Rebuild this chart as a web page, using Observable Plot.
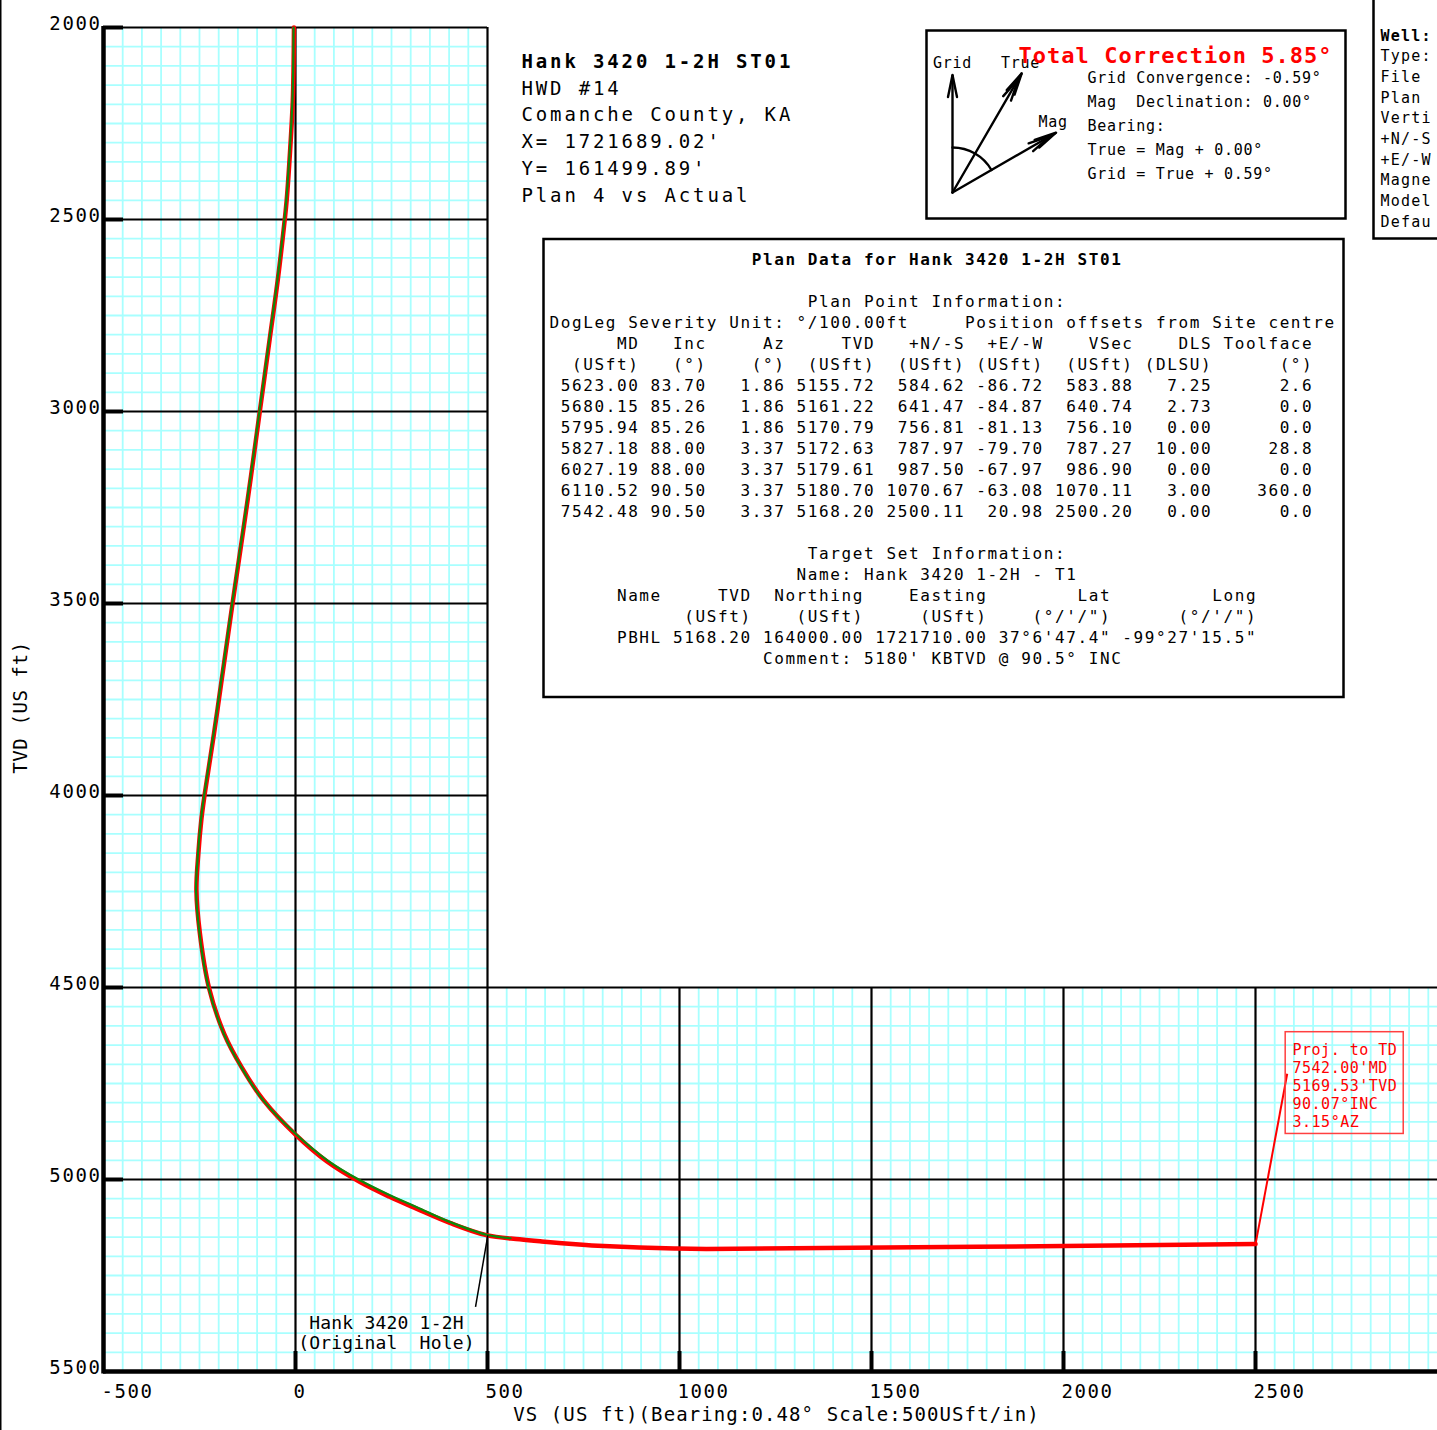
<!DOCTYPE html>
<html><head><meta charset="utf-8">
<script src="https://cdn.jsdelivr.net/npm/d3@7"></script>
<script src="https://cdn.jsdelivr.net/npm/@observablehq/plot@0.6"></script>
<style>
html,body{margin:0;padding:0;background:#fff;overflow:hidden;}
#wrap{position:relative;width:1437px;height:1430px;overflow:hidden;background:#fff;}
#wrap svg{position:absolute;left:0;top:0;max-width:none;}
</style></head><body><div id="wrap"></div>
<script>
// ---------- DATA ----------
// Actual wellbore (green): TVD (ft) and vertical section (ft)
const actualTVD = [2000, 2100, 2190, 2320, 2450, 2500, 2656, 2810, 3000, 3169, 3323, 3500, 3683, 3837, 4000, 4061, 4151, 4247, 4359, 4502, 4620, 4708, 4794, 4881, 4950, 5002, 5041, 5072, 5111, 5144, 5153];
const actualVS  = [-5, -6, -8, -15, -24, -29, -47, -68, -94, -117, -139, -165, -191, -213, -238, -246, -254, -259, -250, -226, -187, -141, -84, 0, 83, 168, 246, 316, 403, 498, 560];
// Plan (red) upper section
const planUpperTVD = [2000, 2100, 2190, 2320, 2450, 2500, 2656, 2810, 3000, 3169, 3323, 3500, 3683, 3837, 4000, 4061, 4151, 4247, 4359, 4502, 4620, 4708, 4794, 4883, 4953, 5006, 5045, 5076, 5113, 5145];
const planUpperVS  = [-4, -5, -7, -14, -23, -28, -46, -67, -93, -116, -138, -164, -190, -212, -237, -245, -253, -258, -249, -225, -186, -140, -83, 0, 82, 167, 245, 315, 402, 497];
// Plan point table
const tblMD   = [5623.00, 5680.15, 5795.94, 5827.18, 6027.19, 6110.52, 7542.48];
const tblInc  = [83.70, 85.26, 85.26, 88.00, 88.00, 90.50, 90.50];
const tblAz   = [1.86, 1.86, 1.86, 3.37, 3.37, 3.37, 3.37];
const tblTVD  = [5155.72, 5161.22, 5170.79, 5172.63, 5179.61, 5180.70, 5168.20];
const tblNS   = [584.62, 641.47, 756.81, 787.97, 987.50, 1070.67, 2500.11];
const tblEW   = [-86.72, -84.87, -81.13, -79.70, -67.97, -63.08, 20.98];
const tblVSec = [583.88, 640.74, 756.10, 787.27, 986.90, 1070.11, 2500.20];
const tblDLS  = [7.25, 2.73, 0.00, 10.00, 0.00, 3.00, 0.00];
const tblTF   = [2.6, 0.0, 0.0, 28.8, 0.0, 360.0, 0.0];
// Target
const tgtName = ["PBHL"], tgtTVD = [5168.20], tgtNorthing = [164000.00], tgtEasting = [1721710.00];
const tgtLat = ["37°6'47.4\""], tgtLong = ["-99°27'15.5\""];
// Projection to TD
const projMD = 7542.00, projTVD = 5169.53, projInc = 90.07, projAz = 3.15;
// Axis ticks
const xTicks = [-500, 0, 500, 1000, 1500, 2000, 2500];
const yTicks = [2000, 2500, 3000, 3500, 4000, 4500, 5000, 5500];
// Header texts
const titleLines = ["Hank 3420 1-2H ST01", "HWD #14", "Comanche County, KA", "X= 1721689.02'", "Y= 161499.89'", "Plan 4 vs Actual"];
const corrLines = ["Grid Convergence: -0.59°", "Mag  Declination: 0.00°", "Bearing:", "True = Mag + 0.00°", "Grid = True + 0.59°"];
const wellLines = ["Well:", "Type:", "File", "Plan", "Verti", "+N/-S", "+E/-W", "Magne", "Model", "Defau"];

// ---------- LAYOUT ----------
const W = 1437, H = 1430, mL = 103, mT = 27, mB = 59;
const pxPerFt = 192 / 500;
const ft = px => px / pxPerFt;
const xMax = -500 + (W - mL) / pxPerFt;

const plan = planUpperVS.map((v, i) => ({vs: v, tvd: planUpperTVD[i]}))
  .concat(tblVSec.map((v, i) => ({vs: v, tvd: tblTVD[i]})));
const actual = actualVS.map((v, i) => ({vs: v, tvd: actualTVD[i]}));

// grid
const minorV = d3.range(-450, xMax, 50).filter(v => v % 500 !== 0).map(v => ({x: v, y1: v < 500 ? 2000 : 4500, y2: 5500}));
const minorH = d3.range(2050, 5500, 50).filter(v => v % 500 !== 0).map(v => ({y: v, x1: -500, x2: v < 4500 ? 500 : xMax}));
const majorV = xTicks.filter(v => v > -500).map(v => ({x: v, y1: v <= 500 ? 2000 : 4500, y2: 5500}));
const majorH = yTicks.filter(v => v < 5500).map(v => ({y: v, x1: -500, x2: v < 4500 ? 500 : xMax}));

const endPt = plan[plan.length - 1];
const projLeader = [{x1: endPt.vs, y1: endPt.tvd, x2: 2582.6, y2: 4724.6}];
const projBox = [{x1: 2578.6, x2: 2886.0, y1: 4616.4, y2: 4881.4}];
const projText = ["Proj. to TD", `${projMD.toFixed(2)}'MD`, `${projTVD.toFixed(2)}'TVD`, `${projInc.toFixed(2)}°INC`, `${projAz.toFixed(2)}°AZ`].join("\n");
const holeLeader = [{x1: 500.8, y1: 5145.6, x2: 468.8, y2: 5332}];

const chart = Plot.plot({
  width: W, height: H,
  marginLeft: mL, marginRight: 0, marginTop: mT, marginBottom: mB,
  x: {domain: [-500, xMax], axis: null},
  y: {domain: [2000, 5500], reverse: true, axis: null},
  style: {fontFamily: "DejaVu Sans Mono", background: "transparent", color: "black", overflow: "visible"},
  marks: [
    Plot.ruleX(minorV, {x: "x", y1: "y1", y2: "y2", stroke: "#a8ffff", strokeWidth: 1.8}),
    Plot.ruleY(minorH, {y: "y", x1: "x1", x2: "x2", stroke: "#a8ffff", strokeWidth: 1.8}),
    Plot.ruleX(majorV, {x: "x", y1: "y1", y2: "y2", stroke: "black", strokeWidth: 2.2}),
    Plot.ruleY(majorH, {y: "y", x1: "x1", x2: "x2", stroke: "black", strokeWidth: 2.2}),
    Plot.ruleX([-500], {y1: 2000 - ft(1), y2: 5500 + ft(2.5), stroke: "black", strokeWidth: 4.5}),
    Plot.ruleY([5500], {x1: -500, x2: xMax, stroke: "black", strokeWidth: 4.5}),
    Plot.ruleY(yTicks.slice(0, -1), {y: d => d, x1: -500, x2: -500 + ft(20), stroke: "black", strokeWidth: 4}),
    Plot.ruleX(xTicks.slice(1), {x: d => d, y1: 5500, y2: 5500 - ft(20), stroke: "black", strokeWidth: 4}),
    Plot.text(yTicks, {x: -500, y: d => d, text: d => `${d}`, textAnchor: "end", lineAnchor: "middle", dx: -2, dy: -3.5, fontSize: 19, fill: "black"}),
    Plot.text(xTicks, {x: d => d, y: 5500, text: d => `${d}`, textAnchor: "start", lineAnchor: "middle", dx: -2, dy: 20, fontSize: 19, fill: "black"}),
    Plot.text(["VS (US ft)(Bearing:0.48° Scale:500USft/in)"], {frameAnchor: "bottom", textAnchor: "middle", lineAnchor: "middle", dx: 6, dy: 43.5, fontSize: 19, fill: "black"}),
    Plot.text(["TVD (US ft)"], {frameAnchor: "left", textAnchor: "middle", lineAnchor: "middle", dx: -83, dy: 8, rotate: -90, fontSize: 19, fill: "black"}),
    Plot.line(plan, {x: "vs", y: "tvd", stroke: "#ff0000", strokeWidth: 4.5, curve: "catmull-rom"}),
    Plot.line(actual, {x: "vs", y: "tvd", stroke: "#0b8a0b", strokeWidth: 2.2, curve: "catmull-rom"}),
    Plot.link(projLeader, {x1: "x1", y1: "y1", x2: "x2", y2: "y2", stroke: "#ff0000", strokeWidth: 2}),
    Plot.rect(projBox, {x1: "x1", x2: "x2", y1: "y1", y2: "y2", fill: "none", stroke: "#ff4040", strokeWidth: 1.5}),
    Plot.text([projText], {x: 2596.4, y: 4641.9, textAnchor: "start", lineAnchor: "top", lineHeight: 1.2, fontSize: 15, fill: "#ff0000"}),
    Plot.link(holeLeader, {x1: "x1", y1: "y1", x2: "x2", y2: "y2", stroke: "black", strokeWidth: 1.5}),
    Plot.text(["Hank 3420 1-2H\n(Original  Hole)"], {x: 237, y: 5397.7, textAnchor: "middle", lineAnchor: "middle", lineHeight: 20.5 / 18, fontSize: 18, fill: "black"})
  ]
});
const wrap = document.getElementById("wrap");
wrap.appendChild(chart);
// letter spacing of the text marks, in mark order
const textGroups = d3.select(chart).selectAll('g[aria-label="text"]').nodes();
const spacings = ["1.6px", "1.6px", "1.1px", "0.6px", "0.5px", "0.2px"];
textGroups.forEach((n, i) => { if (spacings[i]) n.style.letterSpacing = spacings[i]; });

// ---------- OVERLAY PANELS ----------
const ov = d3.select(wrap).append("svg").attr("width", W).attr("height", H)
  .attr("font-family", "DejaVu Sans Mono").style("pointer-events", "none");
const nb = s => s.replace(/ /g, "\u00A0");
function txt(x, y, s, o = {}) {
  return ov.append("text").attr("x", x).attr("y", y).attr("font-size", o.size || 15)
    .attr("letter-spacing", o.ls || 0).attr("font-weight", o.bold ? "bold" : "normal")
    .attr("fill", o.fill || "black").text(nb(s));
}
// left page border
ov.append("line").attr("x1", 0.75).attr("x2", 0.75).attr("y1", 0).attr("y2", H).attr("stroke", "black").attr("stroke-width", 1.5);

// title block
titleLines.forEach((s, i) => txt(521.5, 67.7 + 26.8 * i, s, {size: 19, ls: 2.86, bold: i === 0}));

// correction box
ov.append("rect").attr("x", 926.5).attr("y", 30.5).attr("width", 419).attr("height", 188).attr("fill", "none").attr("stroke", "black").attr("stroke-width", 2.5);
const O = [952.5, 192.5];
const g = ov.append("g").attr("stroke", "black").attr("stroke-width", 2.4).attr("fill", "none").attr("stroke-linecap", "round");
function arrow(tip, heads) {
  g.append("line").attr("x1", O[0]).attr("y1", O[1]).attr("x2", tip[0]).attr("y2", tip[1]);
  const dx = tip[0] - O[0], dy = tip[1] - O[1], L = Math.hypot(dx, dy);
  const u = [dx / L, dy / L], n = [-u[1], u[0]];
  for (let k = 0; k < heads; k++) {
    const t = [tip[0] - u[0] * 7 * k, tip[1] - u[1] * 7 * k];
    const b = [t[0] - u[0] * 22, t[1] - u[1] * 22];
    g.append("polyline").attr("points", `${b[0] + n[0] * 4.5},${b[1] + n[1] * 4.5} ${t[0]},${t[1]} ${b[0] - n[0] * 4.5},${b[1] - n[1] * 4.5}`);
  }
}
arrow([952.5, 75], 1);
arrow([1021.7, 73.3], 2);
arrow([1056, 132.7], 2);
g.append("path").attr("d", `M${O[0]},${O[1] - 45} A45,45 0 0 1 ${O[0] + 45 * Math.sin(Math.PI / 3)},${O[1] - 45 * Math.cos(Math.PI / 3)}`);
txt(933, 68.3, "Grid", {size: 15, ls: 0.7});
txt(1001, 68.3, "True", {size: 15, ls: 0.7});
txt(1038.5, 126.7, "Mag", {size: 15, ls: 0.7});
txt(1018.5, 63.3, "Total Correction 5.85°", {size: 22, ls: 1.03, bold: true, fill: "#ff0000"});
[82.7, 106.7, 131, 155, 179.2].forEach((y, i) => txt(1087.5, y, corrLines[i], {size: 15, ls: 0.72}));

// well info box (clipped at page edge)
ov.append("path").attr("d", "M1373.5,-2 V238.5 H1440").attr("fill", "none").attr("stroke", "black").attr("stroke-width", 2.5);
wellLines.forEach((s, i) => txt(1380.5, 40.7 + 20.67 * i, s, {size: 15, ls: 1.2, bold: i === 0}));

// plan data table
ov.append("rect").attr("x", 543.5).attr("y", 239).attr("width", 800).attr("height", 458).attr("fill", "none").attr("stroke", "black").attr("stroke-width", 2.5);
const p = (s, w) => String(s).padStart(w);
const colW = [8, 6, 7, 8, 8, 7, 8, 7, 9];
const row = cells => cells.map((c, i) => p(c, colW[i])).join("");
const tLines = [];
tLines.push(" ".repeat(18) + "Plan Data for Hank 3420 1-2H ST01");
tLines.push("");
tLines.push(" ".repeat(23) + "Plan Point Information:");
tLines.push("DogLeg Severity Unit: °/100.00ft     Position offsets from Site centre");
tLines.push(row(["MD", "Inc", "Az", "TVD", "+N/-S", "+E/-W", "VSec", "DLS", "Toolface"]));
tLines.push(row(["(USft)", "(°)", "(°)", "(USft)", "(USft)", "(USft)", "(USft)", "(DLSU)", "(°)"]));
tblMD.forEach((m, i) => tLines.push(row([m.toFixed(2), tblInc[i].toFixed(2), tblAz[i].toFixed(2), tblTVD[i].toFixed(2), tblNS[i].toFixed(2), tblEW[i].toFixed(2), tblVSec[i].toFixed(2), tblDLS[i].toFixed(2), tblTF[i].toFixed(1)])));
tLines.push("");
tLines.push(" ".repeat(23) + "Target Set Information:");
tLines.push(" ".repeat(22) + "Name: Hank 3420 1-2H - T1");
const tW = [10, 8, 10, 11, 11, 13];
const trow = cells => cells.map((c, i) => p(c, tW[i])).join("");
tLines.push(trow(["Name", "TVD", "Northing", "Easting", "Lat", "Long"]));
tLines.push(trow(["", "(USft)", "(USft)", "(USft)", "(°/'/\")", "(°/'/\")"]));
tgtName.forEach((nm, i) => tLines.push(trow([nm, tgtTVD[i].toFixed(2), tgtNorthing[i].toFixed(2), tgtEasting[i].toFixed(2), tgtLat[i], tgtLong[i]])));
tLines.push(" ".repeat(19) + "Comment: 5180' KBTVD @ 90.5° INC");
tLines.forEach((s, k) => { if (s) txt(549.5, 264.8 + 21 * k, s, {size: 16, ls: 1.6, bold: k === 0}); });
</script></body></html>
